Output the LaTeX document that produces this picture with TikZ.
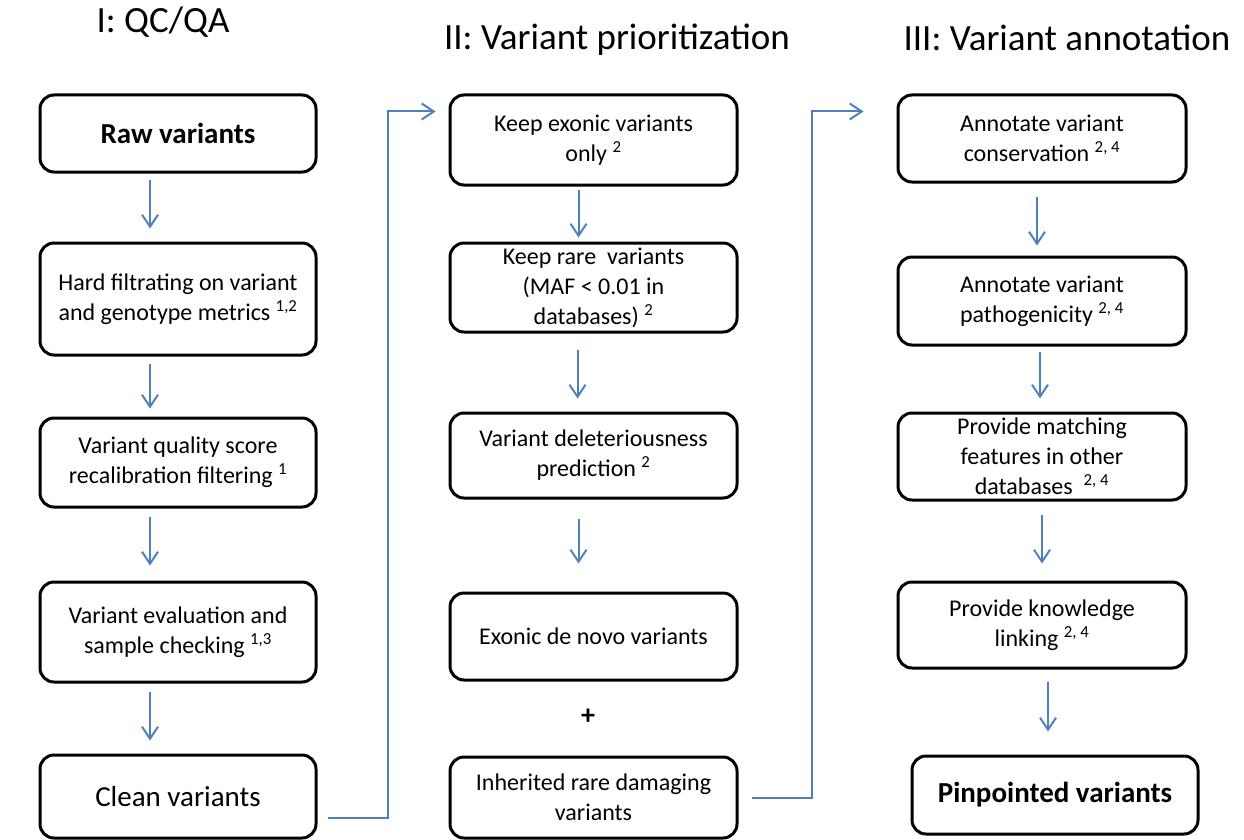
\documentclass[tikz,border=0pt]{standalone}
\usepackage{fontspec}
\setmainfont{Carlito}
\usetikzlibrary{arrows.meta}
\definecolor{arrowblue}{HTML}{4F81BD}
\tikzset{
  stepbox/.style={draw, line width=3pt, rounded corners=14pt, align=center, inner sep=2pt,
    font=\fontsize{24pt}{30pt}\selectfont},
  bigbox/.style={stepbox, font=\fontsize{29pt}{32pt}\selectfont},
  phase/.style={font=\fontsize{37pt}{40pt}\selectfont},
  flow/.style={draw=arrowblue, line width=2pt, -{Straight Barb[length=12pt,width=16pt]}}
}
\begin{document}
\begin{tikzpicture}[x=1pt,y=-1pt]
\useasboundingbox (0,0) rectangle (1244,840);
\node[phase] (titleI) at (163,22) {I: QC/QA};
\node[phase] (titleII) at (617,40) {II: Variant prioritization};
\node[phase] (titleIII) at (1067,38) {III: Variant annotation};
\node[bigbox, minimum width=276pt, minimum height=77pt] (raw) at (178,133.5) {\bfseries Raw variants};
\node[stepbox, minimum width=276pt, minimum height=112pt] (hard) at (178,299) {Hard filtrating on variant\\and genotype metrics \textsuperscript{1,2}};
\node[stepbox, minimum width=276pt, minimum height=89pt] (vqsr) at (178,462.5) {Variant quality score\\recalibration filtering \textsuperscript{1}};
\node[stepbox, minimum width=276pt, minimum height=100pt] (evalc) at (178,632) {Variant evaluation and\\sample checking \textsuperscript{1,3}};
\node[bigbox, minimum width=276pt, minimum height=83pt] (clean) at (178,796.5) {Clean variants};
\node[stepbox, minimum width=287pt, minimum height=90pt] (exonic) at (593.5,140) {Keep exonic variants\\only \textsuperscript{2}};
\node[stepbox, minimum width=287pt, minimum height=89pt] (rare) at (593.5,287.5) {Keep rare\ \ variants\\(MAF < 0.01 in\\databases) \textsuperscript{2}};
\node[stepbox, minimum width=287pt, minimum height=85pt] (delet) at (593.5,455.5) {Variant deleteriousness\\prediction \textsuperscript{2}};
\node[stepbox, minimum width=287pt, minimum height=87pt] (denovo) at (593.5,636.5) {Exonic de novo variants};
\node[font=\fontsize{28pt}{30pt}\selectfont\bfseries] (plus) at (588,717) {+};
\node[stepbox, minimum width=287pt, minimum height=81pt] (inherit) at (593.5,797.5) {Inherited rare damaging\\variants};
\node[stepbox, minimum width=288pt, minimum height=87pt] (conserv) at (1042,138.5) {Annotate variant\\conservation \textsuperscript{2, 4}};
\node[stepbox, minimum width=288pt, minimum height=88pt] (patho) at (1042,301) {Annotate variant\\pathogenicity \textsuperscript{2, 4}};
\node[stepbox, minimum width=288pt, minimum height=87pt] (match) at (1042,456.5) {Provide matching\\features in other\\databases\ \ \textsuperscript{2, 4}};
\node[stepbox, minimum width=288pt, minimum height=86pt] (link) at (1042,625) {Provide knowledge\\linking \textsuperscript{2, 4}};
\node[bigbox, minimum width=286pt, minimum height=78pt] (pinpoint) at (1055,795) {\bfseries Pinpointed variants};
\draw[flow, shorten <=6pt, shorten >=13pt] ([xshift=-28pt]raw.south) -- ([xshift=-28pt]hard.north);
\draw[flow, shorten <=7pt, shorten >=8pt] ([xshift=-28pt]hard.south) -- ([xshift=-28pt]vqsr.north);
\draw[flow, shorten <=8pt, shorten >=15pt] ([xshift=-28pt]vqsr.south) -- ([xshift=-28pt]evalc.north);
\draw[flow, shorten <=8pt, shorten >=13pt] ([xshift=-28pt]evalc.south) -- ([xshift=-28pt]clean.north);
\draw[flow, shorten <=3pt, shorten >=4pt] ([xshift=-15pt]exonic.south) -- ([xshift=-15pt]rare.north);
\draw[flow, shorten <=16pt, shorten >=13pt] ([xshift=-16pt]rare.south) -- ([xshift=-16pt]delet.north);
\draw[flow, shorten <=19pt, shorten >=28pt] ([xshift=-15pt]delet.south) -- ([xshift=-15pt]denovo.north);
\draw[flow, shorten <=13pt, shorten >=10pt] ([xshift=-5pt]conserv.south) -- ([xshift=-5pt]patho.north);
\draw[flow, shorten <=5pt, shorten >=13pt] ([xshift=-2pt]patho.south) -- ([xshift=-2pt]match.north);
\draw[flow, shorten <=13pt, shorten >=17pt] (match.south) -- (link.north);
\draw[flow, shorten <=12pt, shorten >=23pt] ([xshift=6pt]link.south) -- ([xshift=-7pt]pinpoint.north);
\draw[flow] ([xshift=10pt,yshift=-21pt]clean.east) -| ([xshift=-61pt,yshift=-18pt]exonic.north west) -- ([xshift=-13pt,yshift=-18pt]exonic.north west);
\draw[flow] ([xshift=13pt]inherit.east) -| ([xshift=-85pt,yshift=-18pt]conserv.north west) -- ([xshift=-33pt,yshift=-18pt]conserv.north west);
\end{tikzpicture}
\end{document}
